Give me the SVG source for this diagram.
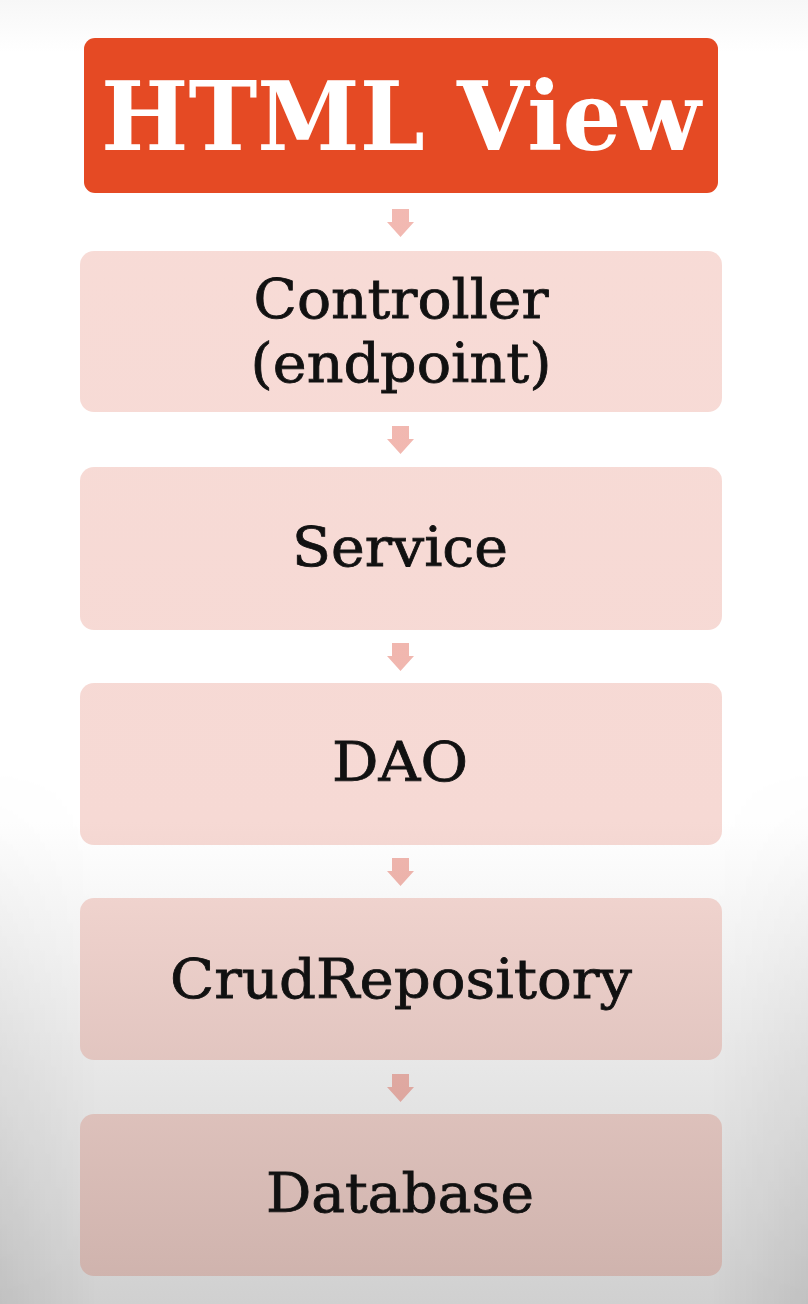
<svg xmlns="http://www.w3.org/2000/svg" width="808" height="1304" viewBox="0 0 808 1304">
<defs>
<linearGradient id="bg" gradientUnits="userSpaceOnUse" x1="0" y1="0" x2="0" y2="1304">
<stop offset="0" stop-color="#f7f7f7"/>
<stop offset="0.04" stop-color="#ffffff"/>
<stop offset="0.63" stop-color="#ffffff"/>
<stop offset="1" stop-color="#d0d0d0"/>
</linearGradient>
<linearGradient id="pink" gradientUnits="userSpaceOnUse" x1="0" y1="0" x2="0" y2="1304">
<stop offset="0" stop-color="#f8dcd7"/>
<stop offset="0.63" stop-color="#f6d9d4"/>
<stop offset="1" stop-color="#cdb1ab"/>
</linearGradient>
<linearGradient id="arr" gradientUnits="userSpaceOnUse" x1="0" y1="0" x2="0" y2="1304">
<stop offset="0" stop-color="#f3bab3"/>
<stop offset="0.63" stop-color="#f0b6ae"/>
<stop offset="1" stop-color="#d09c95"/>
</linearGradient>
<linearGradient id="vig" x1="0" y1="0" x2="1" y2="0">
<stop offset="0" stop-color="#000" stop-opacity="0.07"/>
<stop offset="0.12" stop-color="#000" stop-opacity="0"/>
<stop offset="0.88" stop-color="#000" stop-opacity="0"/>
<stop offset="1" stop-color="#000" stop-opacity="0.07"/>
</linearGradient>
<linearGradient id="vfade" x1="0" y1="0" x2="0" y2="1">
<stop offset="0" stop-color="#000"/>
<stop offset="1" stop-color="#fff"/>
</linearGradient>
<mask id="vmask" maskUnits="userSpaceOnUse" x="0" y="760" width="808" height="544">
<rect x="0" y="760" width="808" height="544" fill="url(#vfade)"/>
</mask>
</defs>
<style>
.box{fill:url(#pink);}
.lbl{font-family:"DejaVu Serif","Liberation Serif",serif;font-size:54px;fill:#111;stroke:#111;stroke-width:0.8;text-anchor:middle;}
.title{font-family:"DejaVu Serif","Liberation Serif",serif;font-size:96px;font-weight:bold;fill:#ffffff;text-anchor:middle;}
.arrow{fill:url(#arr);}
</style>
<rect x="0" y="0" width="808" height="1304" fill="url(#bg)"/>
<rect x="0" y="760" width="808" height="544" fill="url(#vig)" mask="url(#vmask)"/>

<g id="html-view">
<rect x="84" y="38" width="634" height="155" rx="11" fill="#e54a24"/>
<text class="title" x="401" y="150" textLength="600" lengthAdjust="spacingAndGlyphs">HTML View</text>
</g>

<g id="controller">
<rect class="box" x="80" y="251" width="642" height="161" rx="14"/>
<text class="lbl" x="401" y="318" textLength="295" lengthAdjust="spacingAndGlyphs">Controller</text>
<text class="lbl" x="401" y="382" textLength="301" lengthAdjust="spacingAndGlyphs">(endpoint)</text>
</g>

<g id="service">
<rect class="box" x="80" y="467" width="642" height="163" rx="14"/>
<text class="lbl" x="400" y="566" textLength="216" lengthAdjust="spacingAndGlyphs">Service</text>
</g>

<g id="dao">
<rect class="box" x="80" y="683" width="642" height="162" rx="14"/>
<text class="lbl" x="400" y="781" textLength="136" lengthAdjust="spacingAndGlyphs">DAO</text>
</g>

<g id="crudrepository">
<rect class="box" x="80" y="898" width="642" height="162" rx="14"/>
<text class="lbl" x="401" y="998" textLength="462" lengthAdjust="spacingAndGlyphs">CrudRepository</text>
</g>

<g id="database">
<rect class="box" x="80" y="1114" width="642" height="162" rx="14"/>
<text class="lbl" x="400" y="1212" textLength="268" lengthAdjust="spacingAndGlyphs">Database</text>
</g>

<g id="connectors">
<path class="arrow" d="M392,209 H409 V222 H414 L400.5,237 L387,222 H392 Z"/>
<path class="arrow" d="M392,426 H409 V439 H414 L400.5,454 L387,439 H392 Z"/>
<path class="arrow" d="M392,643 H409 V656 H414 L400.5,671 L387,656 H392 Z"/>
<path class="arrow" d="M392,858 H409 V871 H414 L400.5,886 L387,871 H392 Z"/>
<path class="arrow" d="M392,1074 H409 V1087 H414 L400.5,1102 L387,1087 H392 Z"/>
</g>
</svg>
